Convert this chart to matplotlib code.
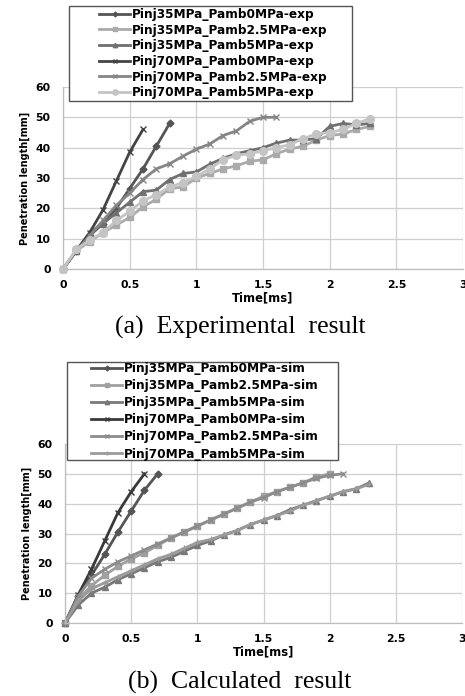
import matplotlib
matplotlib.use("Agg")
import matplotlib.pyplot as plt
from matplotlib import font_manager
from matplotlib.patches import Rectangle

W, H = 465, 696

# ---------------- data ----------------
t_exp_35_0 = [0, 0.1, 0.2, 0.3, 0.4, 0.5, 0.6, 0.7, 0.8]
v_exp_35_0 = [0, 6, 11, 15, 20, 26.5, 33, 40.5, 48]
t_exp_35_25 = [0, 0.1, 0.2, 0.3, 0.4, 0.5, 0.6, 0.7, 0.8, 0.9, 1.0, 1.1, 1.2, 1.3, 1.4, 1.5, 1.6, 1.7, 1.8, 1.9, 2.0, 2.1, 2.2, 2.3]
v_exp_35_25 = [0, 6, 9, 12, 14.5, 17, 20.5, 23, 26.5, 27, 30, 31.5, 33, 34, 35.5, 36, 38, 39.5, 40.5, 42.5, 44, 44.5, 46, 47]
t_exp_35_5 = [0, 0.1, 0.2, 0.3, 0.4, 0.5, 0.6, 0.7, 0.8, 0.9, 1.0, 1.1, 1.2, 1.3, 1.4, 1.5, 1.6, 1.7, 1.8, 1.9, 2.0, 2.1, 2.2, 2.3]
v_exp_35_5 = [0, 6, 12, 15, 18.5, 22, 25.5, 26, 29.5, 31.5, 32, 34.5, 36.5, 38, 39, 40, 41.5, 42.5, 42.5, 43, 47, 48, 47.5, 48]
t_exp_70_0 = [0, 0.1, 0.2, 0.3, 0.4, 0.5, 0.6]
v_exp_70_0 = [0, 6, 12, 19.5, 29, 38.5, 46]
t_exp_70_25 = [0, 0.1, 0.2, 0.3, 0.4, 0.5, 0.6, 0.7, 0.8, 0.9, 1.0, 1.1, 1.2, 1.3, 1.4, 1.5, 1.6]
v_exp_70_25 = [0, 6, 11, 16, 21, 25, 29.5, 33, 34.7, 37.2, 39.5, 41.2, 44, 45.5, 48.7, 50, 50]
t_exp_70_5 = [0, 0.1, 0.2, 0.3, 0.4, 0.5, 0.6, 0.7, 0.8, 0.9, 1.0, 1.1, 1.2, 1.3, 1.4, 1.5, 1.6, 1.7, 1.8, 1.9, 2.0, 2.1, 2.2, 2.3]
v_exp_70_5 = [0, 6.5, 9.5, 12, 16, 19, 22.5, 24.5, 27, 28.5, 30.5, 33, 36, 37.5, 38, 39, 40, 41, 43, 44.5, 45, 46, 48, 49.5]

t_sim_35_0 = [0, 0.1, 0.2, 0.3, 0.4, 0.5, 0.6, 0.7]
v_sim_35_0 = [0, 9, 16, 23, 30.5, 37.5, 44.5, 50]
t_sim_35_25 = [0, 0.1, 0.2, 0.3, 0.4, 0.5, 0.6, 0.7, 0.8, 0.9, 1.0, 1.1, 1.2, 1.3, 1.4, 1.5, 1.6, 1.7, 1.8, 1.9, 2.0]
v_sim_35_25 = [0, 8, 12.5, 16, 19, 21.5, 23.5, 26, 28.5, 30.5, 32.5, 34.5, 36.5, 38.5, 40.5, 42.5, 44, 45.5, 47, 49, 50]
t_sim_35_5 = [0, 0.1, 0.2, 0.3, 0.4, 0.5, 0.6, 0.7, 0.8, 0.9, 1.0, 1.1, 1.2, 1.3, 1.4, 1.5, 1.6, 1.7, 1.8, 1.9, 2.0, 2.1, 2.2, 2.3]
v_sim_35_5 = [0, 6, 10, 12, 14.5, 16.5, 18.5, 20.5, 22, 24, 26, 27.5, 29.5, 31, 33, 34.5, 36, 38, 39.5, 41, 42.5, 44, 45, 47]
t_sim_70_0 = [0, 0.1, 0.2, 0.3, 0.4, 0.5, 0.6]
v_sim_70_0 = [0, 9.5, 18, 27.5, 37, 44, 50]
t_sim_70_25 = [0, 0.1, 0.2, 0.3, 0.4, 0.5, 0.6, 0.7, 0.8, 0.9, 1.0, 1.1, 1.2, 1.3, 1.4, 1.5, 1.6, 1.7, 1.8, 1.9, 2.0, 2.1]
v_sim_70_25 = [0, 9, 15, 18, 20.5, 22.5, 24.5, 26.5, 28.5, 30.5, 32.5, 34.5, 36.5, 38.5, 40.5, 42, 44, 45.5, 47, 48.5, 49.5, 50]
t_sim_70_5 = [0, 0.1, 0.2, 0.3, 0.4, 0.5, 0.6, 0.7, 0.8, 0.9, 1.0, 1.1, 1.2, 1.3, 1.4, 1.5, 1.6, 1.7, 1.8, 1.9, 2.0, 2.1, 2.2, 2.3]
v_sim_70_5 = [0, 7.5, 11.5, 13.5, 15.5, 17.5, 19.5, 21.5, 23, 25, 27, 28, 29.5, 31, 33, 34.5, 36, 37.5, 39.5, 41, 42.5, 44, 45, 46.5]

labels_exp = ["Pinj35MPa_Pamb0MPa-exp", "Pinj35MPa_Pamb2.5MPa-exp", "Pinj35MPa_Pamb5MPa-exp",
              "Pinj70MPa_Pamb0MPa-exp", "Pinj70MPa_Pamb2.5MPa-exp", "Pinj70MPa_Pamb5MPa-exp"]
labels_sim = ["Pinj35MPa_Pamb0MPa-sim", "Pinj35MPa_Pamb2.5MPa-sim", "Pinj35MPa_Pamb5MPa-sim",
              "Pinj70MPa_Pamb0MPa-sim", "Pinj70MPa_Pamb2.5MPa-sim", "Pinj70MPa_Pamb5MPa-sim"]

x_ticks = [0, 0.5, 1, 1.5, 2, 2.5, 3]
x_tick_labels = ["0", "0.5", "1", "1.5", "2", "2.5", "3"]
y_ticks = [0, 10, 20, 30, 40, 50, 60]

# ---------------- styles ----------------
exp_styles = [
    dict(color="#555555", marker="D", ms=3.5),
    dict(color="#aaaaaa", marker="s", ms=5),
    dict(color="#707070", marker="^", ms=4.5),
    dict(color="#444444", marker="x", ms=4.5, mew=1),
    dict(color="#858585", marker="x", ms=4.5, mew=1),
    dict(color="#c4c4c4", marker="o", ms=5.5),
]
sim_styles = [
    dict(color="#555555", marker="D", ms=3.5),
    dict(color="#a0a0a0", marker="s", ms=5),
    dict(color="#787878", marker="^", ms=4.5),
    dict(color="#3a3a3a", marker="x", ms=4.5, mew=1),
    dict(color="#8c8c8c", marker="x", ms=4.5, mew=1),
    dict(color="#9a9a9a", marker="+", ms=5, mew=1),
]

names = {f.name for f in font_manager.fontManager.ttflist}
if "Liberation Sans Narrow" in names:
    ylab_font = dict(family="Liberation Sans Narrow", fontsize=8.6)
else:
    ylab_font = dict(family="DejaVu Sans", fontsize=7)

fig = plt.figure(figsize=(W / 100, H / 100), dpi=100)
fig.patch.set_facecolor("white")

def fx(px):
    return px / W

def fy(py):
    return 1 - py / H

def setup(ax):
    ax.set_xlim(0, 3)
    ax.set_ylim(0, 60)
    ax.set_xticks(x_ticks)
    ax.set_xticklabels(x_tick_labels)
    ax.set_yticks(y_ticks)
    ax.grid(True, color="#cfcfcf", lw=0.9)
    ax.set_axisbelow(True)
    for s in ["top", "right"]:
        ax.spines[s].set_visible(False)
    for s in ["left", "bottom"]:
        ax.spines[s].set_color("#bdbdbd")
        ax.spines[s].set_linewidth(0.9)
    ax.tick_params(axis="y", length=0, labelsize=7.8, pad=9)
    ax.tick_params(axis="x", length=0, labelsize=7.8, pad=8)
    for lab in ax.get_xticklabels() + ax.get_yticklabels():
        lab.set_fontweight("bold")
    ax.set_xlabel("Time[ms]", fontsize=8.3, fontweight="bold", labelpad=1)
    ax.set_ylabel("Penetration length[mm]", fontweight="bold", labelpad=4, **ylab_font)

def legend_box(ax, handles_x, top_y, box, spacing):
    x0, y0, x1, y1 = box
    rect = Rectangle((fx(x0), fy(y1)), fx(x1 - x0), fy(y0) - fy(y1),
                     transform=fig.transFigure, facecolor="white",
                     edgecolor="#555555", lw=1.0, zorder=9)
    fig.add_artist(rect)
    handles, labels = ax.get_legend_handles_labels()
    leg = fig.legend(handles, labels, loc="upper left",
                     bbox_to_anchor=(fx(handles_x), fy(top_y)),
                     bbox_transform=fig.transFigure, prop=dict(size=8.7, weight="bold"),
                     frameon=False, handlelength=2.6, handletextpad=0.15,
                     labelspacing=spacing, borderpad=0, borderaxespad=0, markerscale=0.7)
    leg.set_zorder(10)
    return leg

# top axes
ax1 = fig.add_axes([fx(63), fy(269), fx(463 - 63), fy(87) - fy(269)])
setup(ax1)
exp_t = [t_exp_35_0, t_exp_35_25, t_exp_35_5, t_exp_70_0, t_exp_70_25, t_exp_70_5]
exp_v = [v_exp_35_0, v_exp_35_25, v_exp_35_5, v_exp_70_0, v_exp_70_25, v_exp_70_5]
for t, v, lab, st in zip(exp_t, exp_v, labels_exp, exp_styles):
    ax1.plot(t, v, lw=2, label=lab, clip_on=False, **st)
legend_box(ax1, 99, 8, (69, 6, 352, 101), 0.22)

# bottom axes
ax2 = fig.add_axes([fx(65), fy(623), fx(462 - 65), fy(444) - fy(623)])
setup(ax2)
sim_t = [t_sim_35_0, t_sim_35_25, t_sim_35_5, t_sim_70_0, t_sim_70_25, t_sim_70_5]
sim_v = [v_sim_35_0, v_sim_35_25, v_sim_35_5, v_sim_70_0, v_sim_70_25, v_sim_70_5]
for t, v, lab, st in zip(sim_t, sim_v, labels_sim, sim_styles):
    ax2.plot(t, v, lw=2, label=lab, clip_on=False, **st)
legend_box(ax2, 91, 362, (67, 362, 338, 460), 0.34)

# captions
fig.text(fx(240), fy(327), "(a)  Experimental  result", family="Liberation Serif",
         fontsize=18.5, ha="center", va="center")
fig.text(fx(240), fy(682), "(b)  Calculated  result", family="Liberation Serif",
         fontsize=18.5, ha="center", va="center")

fig.savefig("out.png", dpi=100, facecolor="white")
